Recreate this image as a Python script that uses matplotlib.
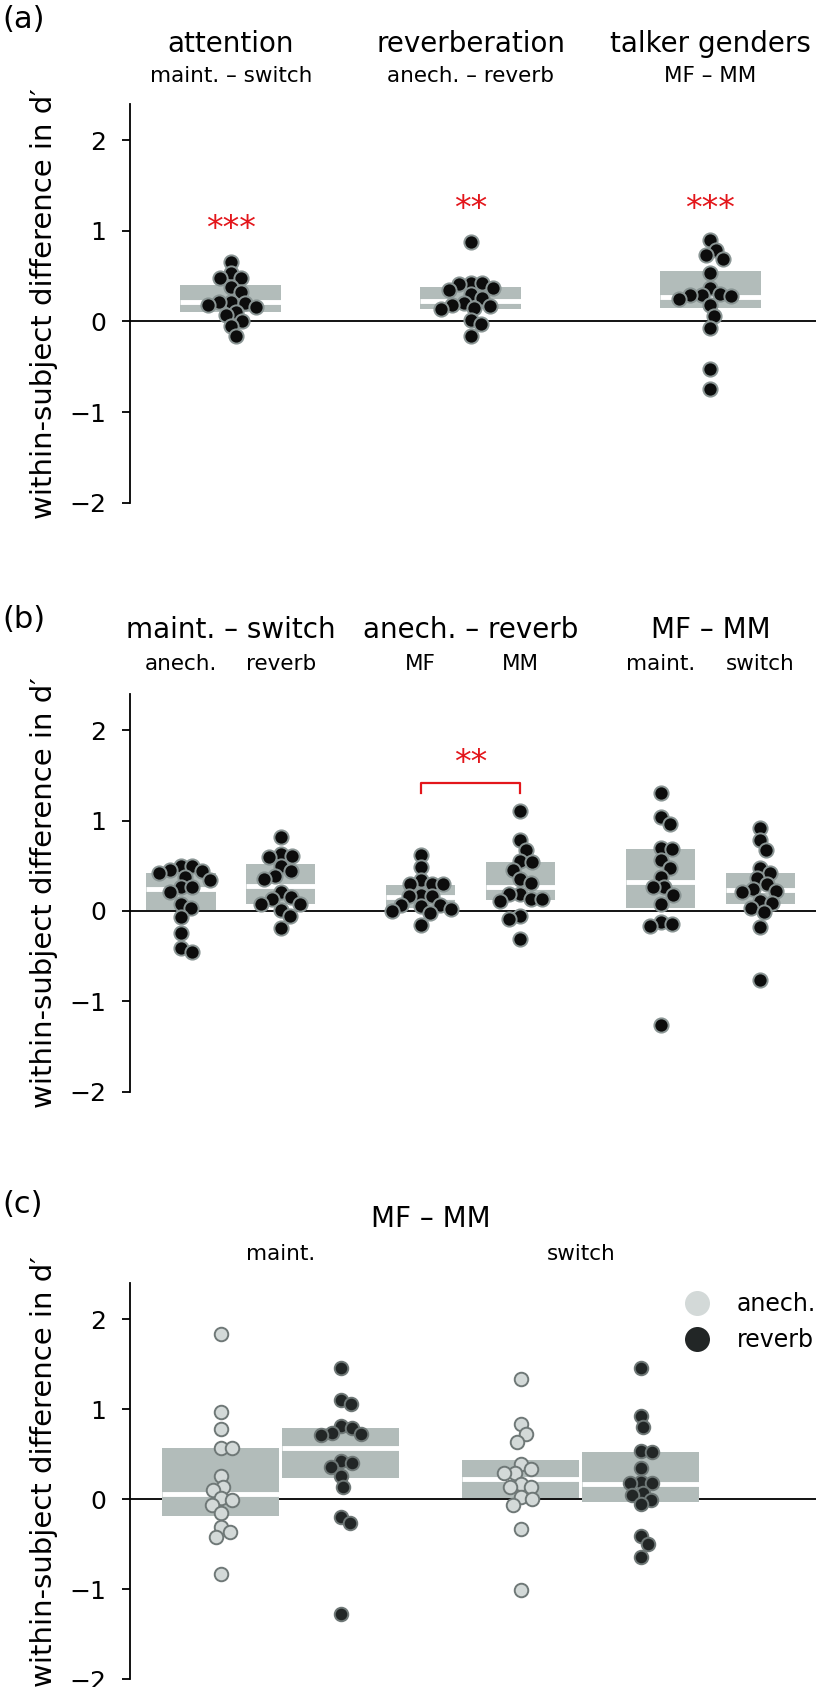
import numpy as np
import matplotlib
matplotlib.use('Agg')
import matplotlib.pyplot as plt
from matplotlib import transforms
from matplotlib.lines import Line2D

# ---- data (16 subjects per group) ----
# panel (a): main effects
a_titles = ['attention', 'reverberation', 'talker genders']
a_subtitles = ['maint. \u2013 switch', 'anech. \u2013 reverb', 'MF \u2013 MM']
a_attention = [0.66, 0.53, 0.48, 0.48, 0.38, 0.32, 0.22, 0.21, 0.20, 0.18, 0.16, 0.11, 0.07, 0.00, -0.05, -0.16]
a_reverb = [0.88, 0.43, 0.42, 0.41, 0.37, 0.35, 0.30, 0.26, 0.20, 0.18, 0.17, 0.15, 0.14, 0.02, -0.03, -0.16]
a_gender = [0.90, 0.79, 0.73, 0.69, 0.53, 0.37, 0.30, 0.29, 0.29, 0.28, 0.25, 0.18, 0.06, -0.07, -0.52, -0.75]
a_box_lo = [0.10, 0.14, 0.15]
a_box_mid = [0.21, 0.23, 0.27]
a_box_hi = [0.40, 0.38, 0.56]
a_stars = ['***', '**', '***']
a_star_y = [1.01, 1.24, 1.24]

# panel (b): two-way splits
b_titles = ['maint. \u2013 switch', 'anech. \u2013 reverb', 'MF \u2013 MM']
b_subtitles = ['anech.', 'reverb', 'MF', 'MM', 'maint.', 'switch']
b_ms_anech = [0.50, 0.50, 0.45, 0.44, 0.42, 0.38, 0.34, 0.26, 0.26, 0.21, 0.08, 0.03, -0.07, -0.24, -0.41, -0.45]
b_ms_reverb = [0.82, 0.63, 0.61, 0.60, 0.50, 0.44, 0.39, 0.35, 0.21, 0.15, 0.13, 0.08, 0.08, 0.01, -0.06, -0.19]
b_ar_mf = [0.62, 0.49, 0.34, 0.30, 0.30, 0.30, 0.18, 0.16, 0.16, 0.07, 0.07, 0.05, 0.02, 0.00, -0.02, -0.16]
b_ar_mm = [1.11, 0.78, 0.67, 0.55, 0.54, 0.45, 0.35, 0.31, 0.19, 0.19, 0.13, 0.13, 0.11, -0.06, -0.09, -0.31]
b_g_maint = [1.30, 1.04, 0.96, 0.70, 0.69, 0.56, 0.48, 0.38, 0.26, 0.26, 0.18, 0.08, -0.12, -0.14, -0.17, -1.26]
b_g_switch = [0.92, 0.78, 0.67, 0.48, 0.42, 0.36, 0.30, 0.24, 0.22, 0.21, 0.11, 0.09, 0.03, -0.01, -0.18, -0.76]
b_box_lo = [0.01, 0.08, 0.03, 0.12, 0.03, 0.08]
b_box_mid = [0.24, 0.28, 0.15, 0.26, 0.32, 0.23]
b_box_hi = [0.42, 0.52, 0.29, 0.54, 0.68, 0.42]

# panel (c): three-way split
c_title = 'MF \u2013 MM'
c_subtitles = ['maint.', 'switch']
c_hues = ['anech.', 'reverb']
c_maint_anech = [1.83, 0.97, 0.78, 0.57, 0.57, 0.26, 0.14, 0.10, 0.01, -0.01, -0.06, -0.15, -0.31, -0.37, -0.42, -0.83]
c_maint_reverb = [1.46, 1.10, 1.06, 0.81, 0.79, 0.74, 0.72, 0.71, 0.42, 0.40, 0.36, 0.26, 0.14, -0.20, -0.26, -1.27]
c_switch_anech = [1.33, 0.83, 0.72, 0.64, 0.39, 0.34, 0.29, 0.29, 0.17, 0.13, 0.13, 0.02, 0.00, -0.06, -0.33, -1.01]
c_switch_reverb = [1.46, 0.92, 0.80, 0.54, 0.52, 0.35, 0.19, 0.18, 0.18, 0.07, 0.05, -0.01, -0.05, -0.41, -0.50, -0.64]
c_box_lo = [-0.19, 0.23, 0.01, -0.03]
c_box_mid = [0.06, 0.57, 0.22, 0.17]
c_box_hi = [0.57, 0.79, 0.44, 0.52]

# ---- style ----
BOX = '#b2bcba'
DARK = '#0c0c0c'
DARK_EDGE = '#8a9594'
LIGHT = '#d3d9d8'
LIGHT_EDGE = '#6f7877'
REVERB = '#222626'
RED = '#e3161b'
plt.rcParams['font.family'] = ['DejaVu Sans']

W, H = 816, 1687
fig = plt.figure(figsize=(W / 100, H / 100), dpi=100)


def fy(px):
    return 1 - px / H


def make_axes(top, bottom, xlim, label_y=0.5):
    ax = fig.add_axes([130 / W, fy(bottom), 1 - 130 / W, (bottom - top) / H])
    ax.set_xlim(*xlim)
    ax.set_ylim(-2, 2.4)
    for s in ['top', 'right', 'bottom']:
        ax.spines[s].set_visible(False)
    ax.spines['left'].set_linewidth(1.3)
    ax.set_xticks([])
    ax.set_yticks([-2, -1, 0, 1, 2])
    ax.tick_params(axis='y', length=6, width=1.3, labelsize=18, pad=11)
    ax.axhline(0, color='k', lw=1.3, zorder=1)
    ax.set_ylabel('within-subject difference in d\u2032', fontsize=21)
    ax.yaxis.set_label_coords(-0.105, label_y)
    return ax


def swarm(ax, vals, x0, d):
    # simple beeswarm in pixel space
    vals = np.asarray(vals, float)
    pts = ax.transData.transform(np.column_stack([np.full(len(vals), x0), vals]))
    cx = pts[0, 0]
    xs = np.zeros(len(vals))
    placed = []
    for i in np.argsort(-vals):
        y = pts[i, 1]
        cands = [cx]
        for px, py in placed:
            dy = y - py
            if abs(dy) < d:
                dx = np.sqrt(d * d - dy * dy)
                cands += [px + dx, px - dx]
        cands.sort(key=lambda c: abs(c - cx))
        for c in cands:
            if all((c - px) ** 2 + (y - py) ** 2 >= d * d - 1e-6 for px, py in placed):
                break
        placed.append((c, y))
        xs[i] = c
    return ax.transData.inverted().transform(np.column_stack([xs, pts[:, 1]]))[:, 0]


def group(ax, x, vals, lo, mid, hi, width, face, edge, s=105, d=11.5):
    ax.bar(x, hi - lo, bottom=lo, width=width, color=BOX, linewidth=0, zorder=2)
    ax.plot([x - width / 2, x + width / 2], [mid, mid], color='white', lw=3.5,
            solid_capstyle='butt', zorder=3)
    xs = swarm(ax, vals, x, d)
    ax.scatter(xs, vals, s=s, c=face, edgecolors=edge, linewidths=1.4, zorder=4)


def label(ax, x, ypx, text, size):
    tr = transforms.blended_transform_factory(ax.transData, fig.transFigure)
    fig.text(x, fy(ypx), text, transform=tr, ha='center', va='baseline', fontsize=size)


# ---- panel (a) ----
ax1 = make_axes(104, 502.7, (-0.42, 2.44))
a_data = [a_attention, a_reverb, a_gender]
for i, vals in enumerate(a_data):
    group(ax1, i, vals, a_box_lo[i], a_box_mid[i], a_box_hi[i], 0.42, DARK, DARK_EDGE)
    ax1.text(i, a_star_y[i], a_stars[i], color=RED, ha='center', va='center', fontsize=24)
    label(ax1, i, 52, a_titles[i], 20)
    label(ax1, i, 82, a_subtitles[i], 15.5)
fig.text(2 / W, fy(28), '(a)', fontsize=22, va='baseline')

# ---- panel (b) ----
ax2 = make_axes(694, 1091.7, (-0.42, 2.44))
b_data = [b_ms_anech, b_ms_reverb, b_ar_mf, b_ar_mm, b_g_maint, b_g_switch]
b_pos = [p + o for p in range(3) for o in (-0.208, 0.208)]
for i, vals in enumerate(b_data):
    group(ax2, b_pos[i], vals, b_box_lo[i], b_box_mid[i], b_box_hi[i], 0.29, DARK, DARK_EDGE)
    label(ax2, b_pos[i], 670, b_subtitles[i], 15.5)
for i in range(3):
    label(ax2, i, 638, b_titles[i], 20)
# significance bracket between MF and MM
ax2.plot([b_pos[2], b_pos[2], b_pos[3], b_pos[3]], [1.31, 1.42, 1.42, 1.31], color=RED, lw=1.6)
ax2.text(1, 1.63, '**', color=RED, ha='center', va='center', fontsize=24)
fig.text(2 / W, fy(628), '(b)', fontsize=22, va='baseline')

# ---- panel (c) ----
ax3 = make_axes(1283, 1679.3, (-0.503, 1.784), label_y=0.525)
c_data = [c_maint_anech, c_maint_reverb, c_switch_anech, c_switch_reverb]
c_pos = [p + o for p in range(2) for o in (-0.2, 0.2)]
c_face = [LIGHT, REVERB, LIGHT, REVERB]
for i, vals in enumerate(c_data):
    group(ax3, c_pos[i], vals, c_box_lo[i], c_box_mid[i], c_box_hi[i], 0.39,
          c_face[i], LIGHT_EDGE, s=95, d=11.0)
for i in range(2):
    label(ax3, i, 1260, c_subtitles[i], 15.5)
label(ax3, 0.5, 1227, c_title, 20)
fig.text(2 / W, fy(1213), '(c)', fontsize=22, va='baseline')

handles = [Line2D([], [], ls='', marker='o', markersize=18, markerfacecolor=LIGHT, markeredgewidth=0),
           Line2D([], [], ls='', marker='o', markersize=18, markerfacecolor=REVERB, markeredgewidth=0)]
ax3.legend(handles, c_hues, loc='upper left', bbox_to_anchor=(673 / W, fy(1292)),
           bbox_transform=fig.transFigure, frameon=False, fontsize=17,
           handletextpad=0.7, labelspacing=0.5, borderaxespad=0, borderpad=0)

fig.savefig('out.png', dpi=100)
